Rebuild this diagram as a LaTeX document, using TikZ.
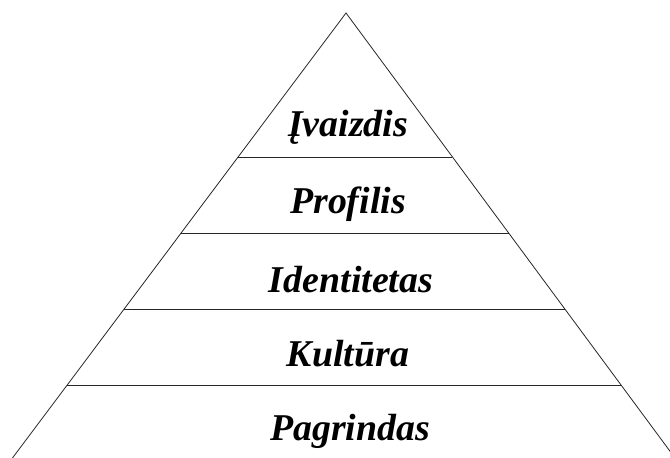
\documentclass[tikz,border=0pt]{standalone}
\usepackage{fontspec}
\setmainfont{Liberation Serif}
\usetikzlibrary{calc}

\tikzset{
  level/.style={anchor=base, font=\fontsize{38}{40}\selectfont\bfseries\itshape},
  edge/.style={line width=0.8bp, black!85}
}

\begin{document}
\begin{tikzpicture}[x=1bp, y=1bp]
\useasboundingbox (0,0) rectangle (670,458);
\clip (0,0) rectangle (670,458);

\coordinate (apex) at (346,445);
\coordinate (bl) at (12.5,0);
\coordinate (br) at (675,0);

\draw[edge] (bl) -- (apex) -- (br);

\draw[edge] ($(apex)!0.3236!(bl)$) -- ($(apex)!0.3236!(br)$);
\draw[edge] ($(apex)!0.4944!(bl)$) -- ($(apex)!0.4944!(br)$);
\draw[edge] ($(apex)!0.6652!(bl)$) -- ($(apex)!0.6652!(br)$);
\draw[edge] ($(apex)!0.8360!(bl)$) -- ($(apex)!0.8360!(br)$);

\node[level] (ivaizdis) at (348,321) {Įvaizdis};
\node[level] (profilis) at (348,244) {Profilis};
\node[level] (identitetas) at (351,165) {Identitetas};
\node[level] (kultura) at (348,91) {Kultūra};
\node[level] (pagrindas) at (350,17) {Pagrindas};
\end{tikzpicture}
\end{document}
